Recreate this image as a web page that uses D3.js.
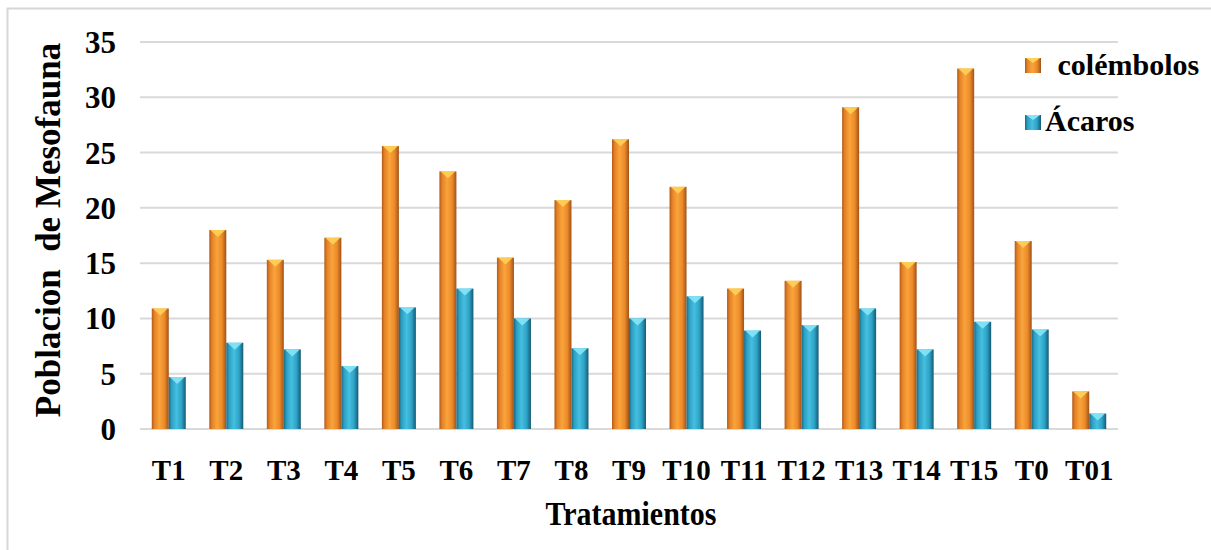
<!DOCTYPE html>
<html><head><meta charset="utf-8">
<script src="https://cdn.jsdelivr.net/npm/d3@7"></script>
<style>body{margin:0;background:#fff;}svg{display:block;font-family:"Liberation Serif","Times New Roman",serif;font-weight:bold;}</style>
</head><body>
<svg id="c" width="1211" height="550"></svg>
<script>
const categories = ["T1","T2","T3","T4","T5","T6","T7","T8","T9","T10","T11","T12","T13","T14","T15","T0","T01"];
const colembolos = [10.9,18.0,15.3,17.3,25.6,23.3,15.5,20.7,26.2,21.9,12.7,13.4,29.1,15.1,32.6,17.0,3.4];
const acaros     = [4.7,7.8,7.2,5.7,11.0,12.7,10.0,7.3,10.0,12.0,8.9,9.4,10.9,7.2,9.7,9.0,1.4];
const yTicks = [0,5,10,15,20,25,30,35];
const seriesNames = [" colémbolos","Ácaros"];

const svg = d3.select("#c");
const defs = svg.append("defs");
function grad(id, stops){
  const g = defs.append("linearGradient").attr("id",id).attr("x1","0%").attr("x2","100%").attr("y1","0%").attr("y2","0%");
  stops.forEach(s=>g.append("stop").attr("offset",s[0]).attr("stop-color",s[1]));
}
grad("gO",[["0%","#b35a18"],["16%","#e58226"],["45%","#f9a43c"],["75%","#ec8a29"],["100%","#a0521a"]]);
grad("gB",[["0%","#186a86"],["16%","#2c9fc2"],["45%","#45bfe0"],["75%","#2ea2c5"],["100%","#155a74"]]);

// frame
svg.append("rect").attr("x",7.5).attr("y",8.5).attr("width",1230).attr("height",560)
  .attr("fill","none").attr("stroke","#d6d6d6").attr("stroke-width",2);

const x0 = 140, x1 = 1118;
const x = d3.scaleBand().domain(categories).range([x0,x1]).padding(0);
const y = d3.scaleLinear().domain([0,35]).range([429,42]);
const bw = 17;

// grid
svg.append("g").selectAll("line").data(yTicks).join("line")
  .attr("x1",x0).attr("x2",x1).attr("y1",d=>y(d)).attr("y2",d=>y(d))
  .attr("stroke","#d9d9d9").attr("stroke-width",2);

// y axis labels
const yAxis = d3.axisLeft(y).tickValues(yTicks).tickSize(0).tickPadding(0).tickFormat(d3.format("d"));
const yg = svg.append("g").attr("transform","translate(116,0)").call(yAxis);
yg.select(".domain").remove();
yg.selectAll("text").attr("font-size",31).attr("font-family","'Liberation Serif',serif").attr("font-weight","bold").attr("fill","#000").attr("dy","0.34em");

// x axis labels
const xAxis = d3.axisBottom(x).tickSize(0).tickPadding(0);
const xg = svg.append("g").attr("transform","translate(0,480)").call(xAxis);
xg.select(".domain").remove();
xg.selectAll("text").attr("font-size",29).attr("font-family","'Liberation Serif',serif").attr("font-weight","bold").attr("fill","#000").attr("dy","0");

// bars
const data = categories.map((c,i)=>({c, v:[colembolos[i], acaros[i]]}));
const fills = ["url(#gO)","url(#gB)"];
const tops = ["#ffd257","#86e6f7"];
const g = svg.append("g");
data.forEach(d=>{
  const cx = x(d.c) + x.bandwidth()/2;
  d.v.forEach((v,k)=>{
    const bx = cx - bw + k*bw;
    const ty = y(v);
    g.append("rect").attr("x",bx).attr("y",ty).attr("width",bw).attr("height",y(0)-ty)
      .attr("fill",fills[k]);
    g.append("path").attr("d",`M${bx+1},${ty}L${bx+bw-1},${ty}L${bx+bw/2},${ty+7}Z`).attr("fill",tops[k]).attr("opacity",0.9);
  });
});

// legend
const leg = svg.append("g");
[["url(#gO)","#ffd257",58,75,1050],["url(#gB)","#86e6f7",115,131,1045]].forEach((l,i)=>{
  leg.append("rect").attr("x",1025).attr("y",l[2]).attr("width",16).attr("height",15).attr("fill",l[0]);
  leg.append("path").attr("d",`M1026,${l[2]}L1040,${l[2]}L1033,${l[2]+5}Z`).attr("fill",l[1]);
  leg.append("text").attr("x",l[4]).attr("y",l[3]).attr("font-size",30).style("white-space","pre").text(seriesNames[i]);
});

// titles
svg.append("text").attr("transform","translate(631,525) scale(1,1.1)").attr("text-anchor","middle").attr("font-size",30).text("Tratamientos");
svg.append("text").attr("transform","translate(60,230) rotate(-90)").attr("text-anchor","middle").attr("font-size",35).style("white-space","pre").text("Poblacion  de Mesofauna");
</script>
</body></html>
